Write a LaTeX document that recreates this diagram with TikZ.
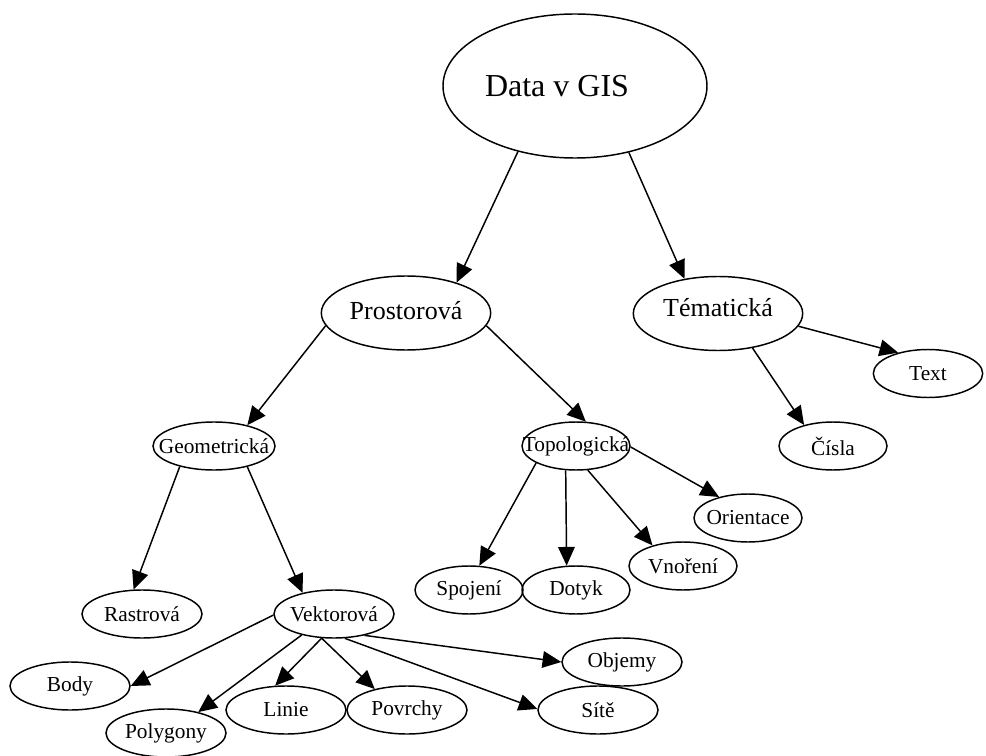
\documentclass[tikz,border=0pt]{standalone}
\usepackage{fontspec}
\setmainfont{Liberation Serif}
\usepackage{tikz}
\usetikzlibrary{arrows.meta,shapes.geometric}
\newcommand{\nm}[1]{\makebox[0pt]{#1}}

\begin{document}
\begin{tikzpicture}[
    x=0.75pt, y=-0.75pt,
    bub/.style={draw, ellipse, line width=1.1pt, inner sep=0pt, minimum width=#1},
    big/.style={bub=198pt, minimum height=108pt, font=\fontsize{24}{28}\selectfont},
    mid/.style={bub=127pt, minimum height=55.5pt, font=\fontsize{19.5}{23}\selectfont},
    leaf/.style={bub=#1, minimum height=36pt, font=\fontsize{16}{19}\selectfont},
    leaf/.default=90pt,
    arr/.style={-{Triangle[length=14pt,width=12.5pt]}, line width=1.1pt}
]
\useasboundingbox (0,0) rectangle (986,756);

\node[big] (data) at (575,86) {\nm{Data v GIS\hspace{27pt}}};

\node[mid] (prost) at (406,313) {\nm{\raisebox{4.5pt}{Prostorová}}};
\node[mid] (temat) at (718,313.5) {\nm{\raisebox{8.5pt}{Tématická}}};

\node[leaf=91.5pt] (geo) at (214,446) {\nm{Geometrická}};
\node[leaf=81pt] (topo) at (576,446) {\nm{Topologická}};
\node[leaf=82pt] (txt) at (928,373.5) {\nm{Text}};
\node[leaf=81pt] (cisla) at (833,446) {\nm{Čísla}};

\node[leaf=81pt] (orient) at (748,518) {\nm{Orientace}};
\node[leaf=81pt] (vnor) at (683,566) {\nm{Vnoření}};
\node[leaf=81pt] (spoj) at (469,590) {\nm{Spojení}};
\node[leaf=81pt] (dotyk) at (576,590) {\nm{Dotyk}};

\node[leaf] (rast) at (142,614) {\nm{Rastrová}};
\node[leaf] (vekt) at (334,614) {\nm{Vektorová}};
\node[leaf] (body) at (70,686) {\nm{Body}};
\node[leaf] (poly) at (166,733) {\nm{Polygony}};
\node[leaf] (linie) at (286,710) {\nm{Linie}};
\node[leaf] (povr) at (407,710) {\nm{Povrchy}};
\node[leaf] (site) at (598,710) {\nm{Sítě}};
\node[leaf] (objemy) at (622,662) {\nm{Objemy}};

\draw[arr] (data.229.7) -- (prost.31);
\draw[arr] (data.309.3) -- (temat.134.6);
\draw[arr] (prost.189.5) -- (geo.32.3);
\draw[arr] (prost.351.8) -- (topo.68.2);
\draw[arr] (temat.351.5) -- (txt.145.3);
\draw[arr] (temat.315.4) -- (cisla.144);
\draw[arr] (geo.211.4) -- (rast.109.1);
\draw[arr] (geo.328.6) -- (vekt.146.7);
\draw[arr] (topo.203.5) -- (spoj.67);
\draw[arr] (topo.247.4) -- (dotyk.111.8);
\draw[arr] (topo.296.6) -- (vnor.146.3);
\draw[arr] (topo.359) -- (orient.144);
\draw[arr] (vekt.181) -- (body.0);
\draw[arr] (vekt.213.7) -- (poly.33);
\draw[arr] (vekt.243.4) -- (linie.114.6);
\draw[arr] (vekt.243.4) -- (povr.147);
\draw[arr] (vekt.294.6) -- (site.179);
\draw[arr] (vekt.325.6) -- (objemy.180);
\end{tikzpicture}
\end{document}
